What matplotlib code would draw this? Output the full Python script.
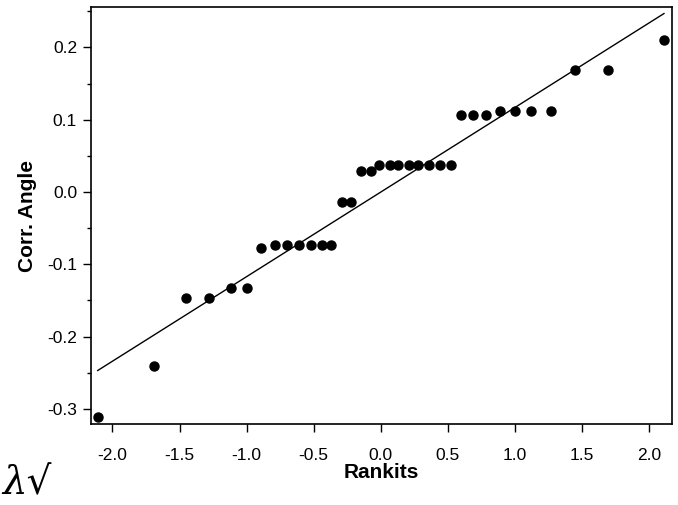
import matplotlib.pyplot as plt
from matplotlib.ticker import MultipleLocator

# rankits (normal scores) y ángulo corregido
rankits = [-2.11, -1.69, -1.45, -1.28, -1.12, -1.00, -0.89, -0.79, -0.70,
           -0.61, -0.52, -0.44, -0.37, -0.29, -0.22, -0.15, -0.075, -0.01,
           0.07, 0.13, 0.21, 0.28, 0.36, 0.44, 0.52, 0.60, 0.69, 0.78,
           0.89, 1.00, 1.12, 1.27, 1.45, 1.69, 2.11]
corr_angle = [-0.311, -0.241, -0.147, -0.147, -0.133, -0.133, -0.078, -0.073,
              -0.073, -0.073, -0.073, -0.073, -0.073, -0.014, -0.014, 0.029,
              0.029, 0.038, 0.038, 0.038, 0.038, 0.038, 0.038, 0.038, 0.038,
              0.106, 0.106, 0.106, 0.112, 0.112, 0.112, 0.112, 0.169, 0.169,
              0.210]

# recta de referencia (extremos leídos)
recta_x = [-2.11, 2.11]
recta_y = [-0.247, 0.247]

plt.rcParams['font.family'] = ['Liberation Sans', 'DejaVu Sans']

fig = plt.figure(figsize=(6.78, 5.05), dpi=100)
ax = fig.add_axes([0.1342, 0.1604, 0.857, 0.8257])

ax.plot(recta_x, recta_y, color='black', linewidth=1.0)
ax.plot(rankits, corr_angle, 'o', color='black', markersize=6.5)

ax.set_xlim(-2.16, 2.17)
ax.set_ylim(-0.321, 0.256)
ax.set_xticks([-2.0, -1.5, -1.0, -0.5, 0.0, 0.5, 1.0, 1.5, 2.0])
ax.set_yticks([-0.3, -0.2, -0.1, 0.0, 0.1, 0.2])
ax.yaxis.set_minor_locator(MultipleLocator(0.05))
ax.xaxis.set_major_formatter(plt.FormatStrFormatter('%.1f'))
ax.yaxis.set_major_formatter(plt.FormatStrFormatter('%.1f'))

ax.tick_params(axis='both', which='major', direction='out', length=6,
               width=1.0, labelsize=12.5)
ax.tick_params(axis='y', which='major', pad=4)
ax.tick_params(axis='x', which='major', pad=11)
ax.tick_params(axis='y', which='minor', direction='out', length=3, width=1.0)
for s in ax.spines.values():
    s.set_linewidth(1.2)

ax.set_xlabel('Rankits', fontsize=15, fontweight='bold', labelpad=0)
ax.set_ylabel('Corr. Angle', fontsize=15, fontweight='bold', labelpad=7)

# garabato escrito a mano abajo a la izquierda
fig.text(0.003, 0.005, 'λ√', fontsize=28, family='DejaVu Serif',
         style='italic', ha='left', va='bottom')

fig.savefig('out.png', dpi=100)
